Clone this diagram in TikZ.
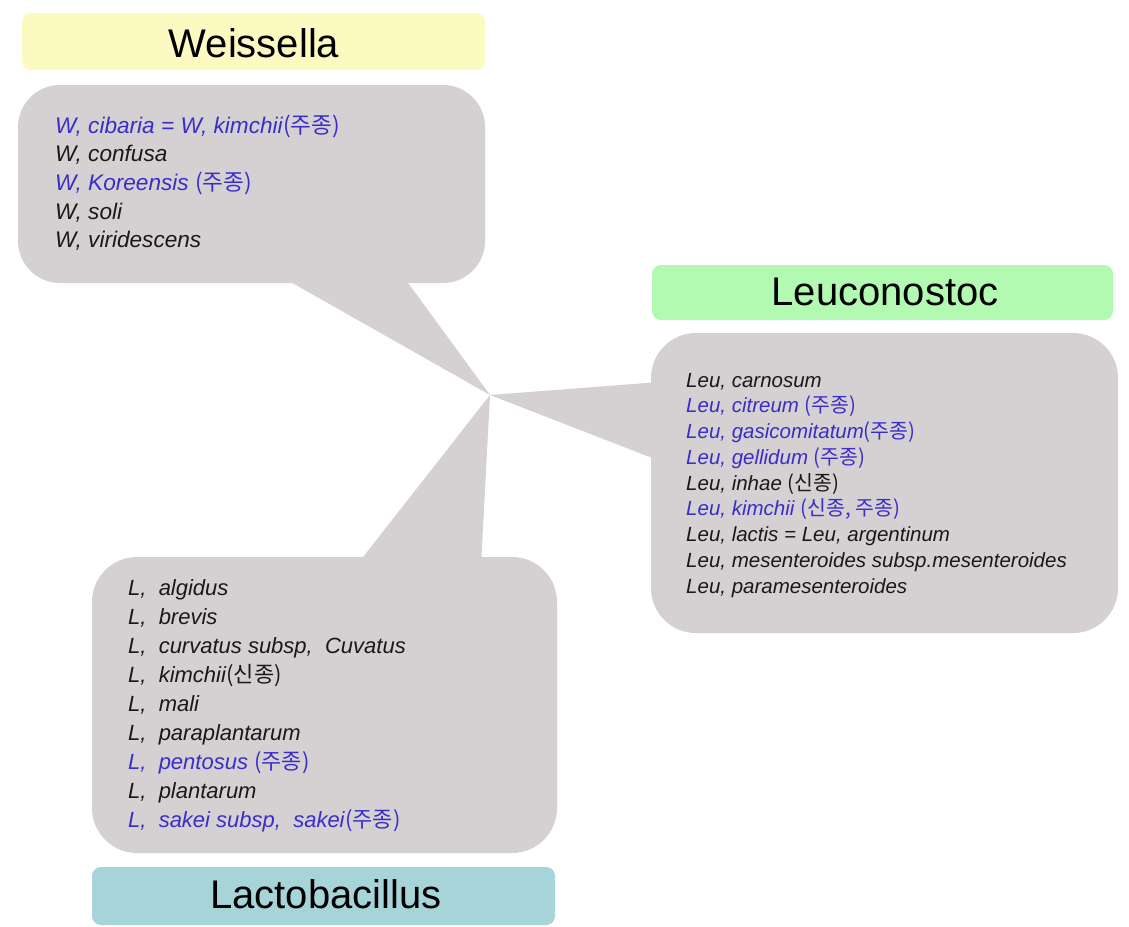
\documentclass[tikz,border=0pt]{standalone}
\usepackage{fontspec}
\setmainfont{Liberation Sans}
\newfontfamily\kr{Noto Sans CJK KR}
\definecolor{callgray}{RGB}{213,208,209}
\definecolor{wyellow}{RGB}{252,250,192}
\definecolor{lgreen}{RGB}{178,250,178}
\definecolor{lteal}{RGB}{166,212,216}
\definecolor{spblue}{RGB}{58,46,200}
\definecolor{spblack}{RGB}{25,25,25}
\tikzset{
  callout/.style={fill=callgray, draw=none},
  labelbox/.style={draw=none, rounded corners=9pt},
  title/.style={anchor=base, inner sep=0pt, font=\fontsize{40}{44}\selectfont, text=black},
  witem/.style={anchor=base west, inner sep=0pt, font=\fontsize{22.6}{26}\selectfont, text=spblack},
  leuitem/.style={anchor=base west, inner sep=0pt, font=\fontsize{20.5}{24}\selectfont, text=spblack},
  litem/.style={anchor=base west, inner sep=0pt, font=\fontsize{22}{26}\selectfont, text=spblack},
  hl/.style={text=spblue}
}
\newcommand{\kor}[1]{{\kr #1}}
\begin{document}
\begin{tikzpicture}[x=1pt,y=-1pt]
\useasboundingbox (0,0) rectangle (1129,926);
\fill[white] (0,0) rectangle (1129,926);
\coordinate (tip) at (490,395);
% callouts
\fill[callout, rounded corners=42pt] (18,85) rectangle (485,283);
\fill[callout] (280,276) -- (403,276) -- (tip) -- cycle;
\fill[callout, rounded corners=45pt] (651,333) rectangle (1118,633);
\fill[callout] (660,382) -- (660,461) -- (tip) -- cycle;
\fill[callout, rounded corners=45pt] (92,557) rectangle (557,853);
\fill[callout] (356,566) -- (481,566) -- (tip) -- cycle;
% label boxes
\fill[labelbox, wyellow] (22,13) rectangle (485,70);
\fill[labelbox, lgreen] (652,265) rectangle (1113,320);
\fill[labelbox, lteal] (92,867) rectangle (555,925);
\node[title] (tw) at (254,57) {Weissella};
\node[title] (tleu) at (885,305) {Leuconostoc};
\node[title] (tl) at (326,908) {Lactobacillus};
% Weissella
\node[witem, hl] (w1) at (55,133) {\textit{W, cibaria = W, kimchii}\kor{(주종)}};
\node[witem] (w2) at (55,161.7) {\textit{W, confusa}};
\node[witem, hl] (w3) at (55,190.4) {\textit{W, Koreensis} \kor{(주종)}};
\node[witem] (w4) at (55,219.1) {\textit{W, soli}};
\node[witem] (w5) at (55,247.8) {\textit{W, viridescens}};
% Leuconostoc
\node[leuitem] (l1) at (686,387) {\textit{Leu, carnosum}};
\node[leuitem, hl] (l2) at (686,412.75) {\textit{Leu, citreum} \kor{(주종)}};
\node[leuitem, hl] (l3) at (686,438.5) {\textit{Leu, gasicomitatum}\kor{(주종)}};
\node[leuitem, hl] (l4) at (686,464.25) {\textit{Leu, gellidum} \kor{(주종)}};
\node[leuitem] (l5) at (686,490) {\textit{Leu, inhae} \kor{(신종)}};
\node[leuitem, hl] (l6) at (686,515.75) {\textit{Leu, kimchii} \kor{(신종, 주종)}};
\node[leuitem] (l7) at (686,541.5) {\textit{Leu, lactis = Leu, argentinum}};
\node[leuitem] (l8) at (686,567.25) {\textit{Leu, mesenteroides subsp.mesenteroides}};
\node[leuitem] (l9) at (686,593) {\textit{Leu, paramesenteroides}};
% Lactobacillus
\node[litem] (b1) at (128,595) {\textit{L,\ \ algidus}};
\node[litem] (b2) at (128,624.1) {\textit{L,\ \ brevis}};
\node[litem] (b3) at (128,653.2) {\textit{L,\ \ curvatus subsp,\ \ Cuvatus}};
\node[litem] (b4) at (128,682.3) {\textit{L,\ \ kimchii}\kor{(신종)}};
\node[litem] (b5) at (128,711.4) {\textit{L,\ \ mali}};
\node[litem] (b6) at (128,740.5) {\textit{L,\ \ paraplantarum}};
\node[litem, hl] (b7) at (128,769.6) {\textit{L,\ \ pentosus} \kor{(주종)}};
\node[litem] (b8) at (128,798.7) {\textit{L,\ \ plantarum}};
\node[litem, hl] (b9) at (128,827.8) {\textit{L,\ \ sakei subsp,\ \ sakei}\kor{(주종)}};
\end{tikzpicture}
\end{document}
